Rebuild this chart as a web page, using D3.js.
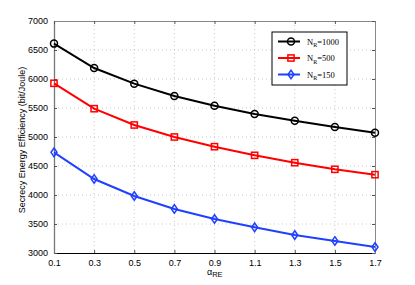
<!DOCTYPE html>
<html>
<head>
<meta charset="utf-8">
<script src="https://cdn.jsdelivr.net/npm/d3@7"></script>
<style>
  body { margin: 0; background: #fff; }
  svg { display: block; }
</style>
</head>
<body>
<script>
const alphaRE = [0.1, 0.3, 0.5, 0.7, 0.9, 1.1, 1.3, 1.5, 1.7];
const nr1000 = [6610, 6190, 5920, 5707, 5540, 5397, 5281, 5172, 5075];
const nr500 = [5926, 5488, 5207, 5000, 4833, 4684, 4557, 4443, 4350];
const nr150 = [4736, 4276, 3983, 3759, 3586, 3443, 3310, 3207, 3103];
const yTicks = [3000, 3500, 4000, 4500, 5000, 5500, 6000, 6500, 7000];
const xTicks = [0.1, 0.3, 0.5, 0.7, 0.9, 1.1, 1.3, 1.5, 1.7];
const seriesNames = ['1000', '500', '150'];
const seriesColors = ['#000000', '#ff0000', '#2040ff'];
const seriesMarkers = ['circle', 'square', 'diamond'];

const W = 415, H = 285;
const margin = {top: 21, right: 40, bottom: 32, left: 54};
const width = W - margin.left - margin.right;
const height = H - margin.top - margin.bottom;

const svg = d3.select('body').append('svg')
  .attr('width', W).attr('height', H);
const g = svg.append('g')
  .attr('transform', 'translate(' + margin.left + ',' + margin.top + ')');

const x = d3.scaleLinear().domain([0.1, 1.7]).range([0, width]);
const y = d3.scaleLinear().domain([3000, 7000]).range([height, 0]);

// grid
g.selectAll('.vgrid').data(xTicks.slice(1, -1)).enter().append('line')
  .attr('x1', d => x(d)).attr('x2', d => x(d))
  .attr('y1', 0).attr('y2', height)
  .attr('stroke', '#bbb').attr('stroke-width', 0.8).attr('stroke-dasharray', '1,3');
g.selectAll('.hgrid').data(yTicks.slice(1, -1)).enter().append('line')
  .attr('x1', 0).attr('x2', width)
  .attr('y1', d => y(d)).attr('y2', d => y(d))
  .attr('stroke', '#bbb').attr('stroke-width', 0.8).attr('stroke-dasharray', '1,3');

// axes
const font = 'Liberation Sans, Arial, sans-serif';
const xAxis = g.append('g').attr('transform', 'translate(0,' + height + ')')
  .call(d3.axisBottom(x).tickValues(xTicks).tickFormat(d3.format('.1f')).tickSizeInner(-3).tickSizeOuter(0).tickPadding(7));
const yAxis = g.append('g')
  .call(d3.axisLeft(y).tickValues(yTicks).tickFormat(d3.format('d')).tickSizeInner(-3).tickSizeOuter(0).tickPadding(6));
const xAxisTop = g.append('g')
  .call(d3.axisTop(x).tickValues(xTicks).tickFormat('').tickSizeInner(-3).tickSizeOuter(0));
const yAxisRight = g.append('g').attr('transform', 'translate(' + width + ',0)')
  .call(d3.axisRight(y).tickValues(yTicks).tickFormat('').tickSizeInner(-3).tickSizeOuter(0));
[xAxis, yAxis, xAxisTop, yAxisRight].forEach(a => {
  a.selectAll('text').attr('font-family', font).attr('font-size', 9).attr('fill', '#000');
  a.selectAll('.tick line').attr('stroke', '#555');
});
xAxis.select('.domain').attr('stroke', '#000').attr('stroke-width', 1);
yAxis.select('.domain').attr('stroke', '#777').attr('stroke-width', 1.3);
xAxisTop.select('.domain').attr('stroke', '#888').attr('stroke-width', 1);
yAxisRight.select('.domain').attr('stroke', '#888').attr('stroke-width', 1);

// series
const allSeries = [nr1000, nr500, nr150];
const line = d3.line().x((d, i) => x(alphaRE[i])).y(d => y(d));

function drawMarker(sel, type, color) {
  if (type === 'circle') {
    sel.append('circle').attr('r', 3.5).attr('fill', 'none').attr('stroke', color).attr('stroke-width', 1.5);
  } else if (type === 'square') {
    sel.append('rect').attr('x', -3.1).attr('y', -3.1).attr('width', 6.2).attr('height', 6.2)
      .attr('fill', 'none').attr('stroke', color).attr('stroke-width', 1.5);
  } else {
    sel.append('path').attr('d', 'M0,-4.3L3,0L0,4.3L-3,0Z')
      .attr('fill', 'none').attr('stroke', color).attr('stroke-width', 1.5);
  }
}

allSeries.forEach((s, k) => {
  g.append('path').datum(s).attr('d', line)
    .attr('fill', 'none').attr('stroke', seriesColors[k]).attr('stroke-width', 2);
  g.selectAll('.m' + k).data(s).enter().append('g')
    .attr('transform', (d, i) => 'translate(' + x(alphaRE[i]) + ',' + y(d) + ')')
    .each(function() { drawMarker(d3.select(this), seriesMarkers[k], seriesColors[k]); });
});

// legend
const lg = svg.append('g').attr('transform', 'translate(272,32)');
lg.append('rect').attr('width', 75).attr('height', 53)
  .attr('fill', '#fff').attr('stroke', '#000').attr('stroke-width', 1);
seriesNames.forEach((n, k) => {
  const row = lg.append('g').attr('transform', 'translate(0,' + (9.5 + k * 16.5) + ')');
  row.append('line').attr('x1', 6).attr('x2', 28).attr('stroke', seriesColors[k]).attr('stroke-width', 2);
  const m = row.append('g').attr('transform', 'translate(19,0)');
  drawMarker(m, seriesMarkers[k], seriesColors[k]);
  const t = row.append('text').attr('x', 35).attr('y', 3)
    .attr('font-family', 'Liberation Serif, Times New Roman, serif').attr('font-size', 8.5);
  t.append('tspan').text('N');
  t.append('tspan').attr('font-size', 6).attr('dy', 2.5).text('R');
  t.append('tspan').attr('dy', -2.5).text('=' + n);
});

// axis labels
svg.append('text')
  .attr('transform', 'translate(25,140) rotate(-90)')
  .attr('text-anchor', 'middle').attr('font-family', font).attr('font-size', 9)
  .text('Secrecy Energy Efficiency (bit/Joule)');
const xl = svg.append('text').attr('x', 207).attr('y', 275)
  .attr('font-family', font).attr('font-size', 9);
xl.append('tspan').text('α');
xl.append('tspan').attr('font-size', 7.5).attr('dy', 2).text('RE');
</script>
</body>
</html>
